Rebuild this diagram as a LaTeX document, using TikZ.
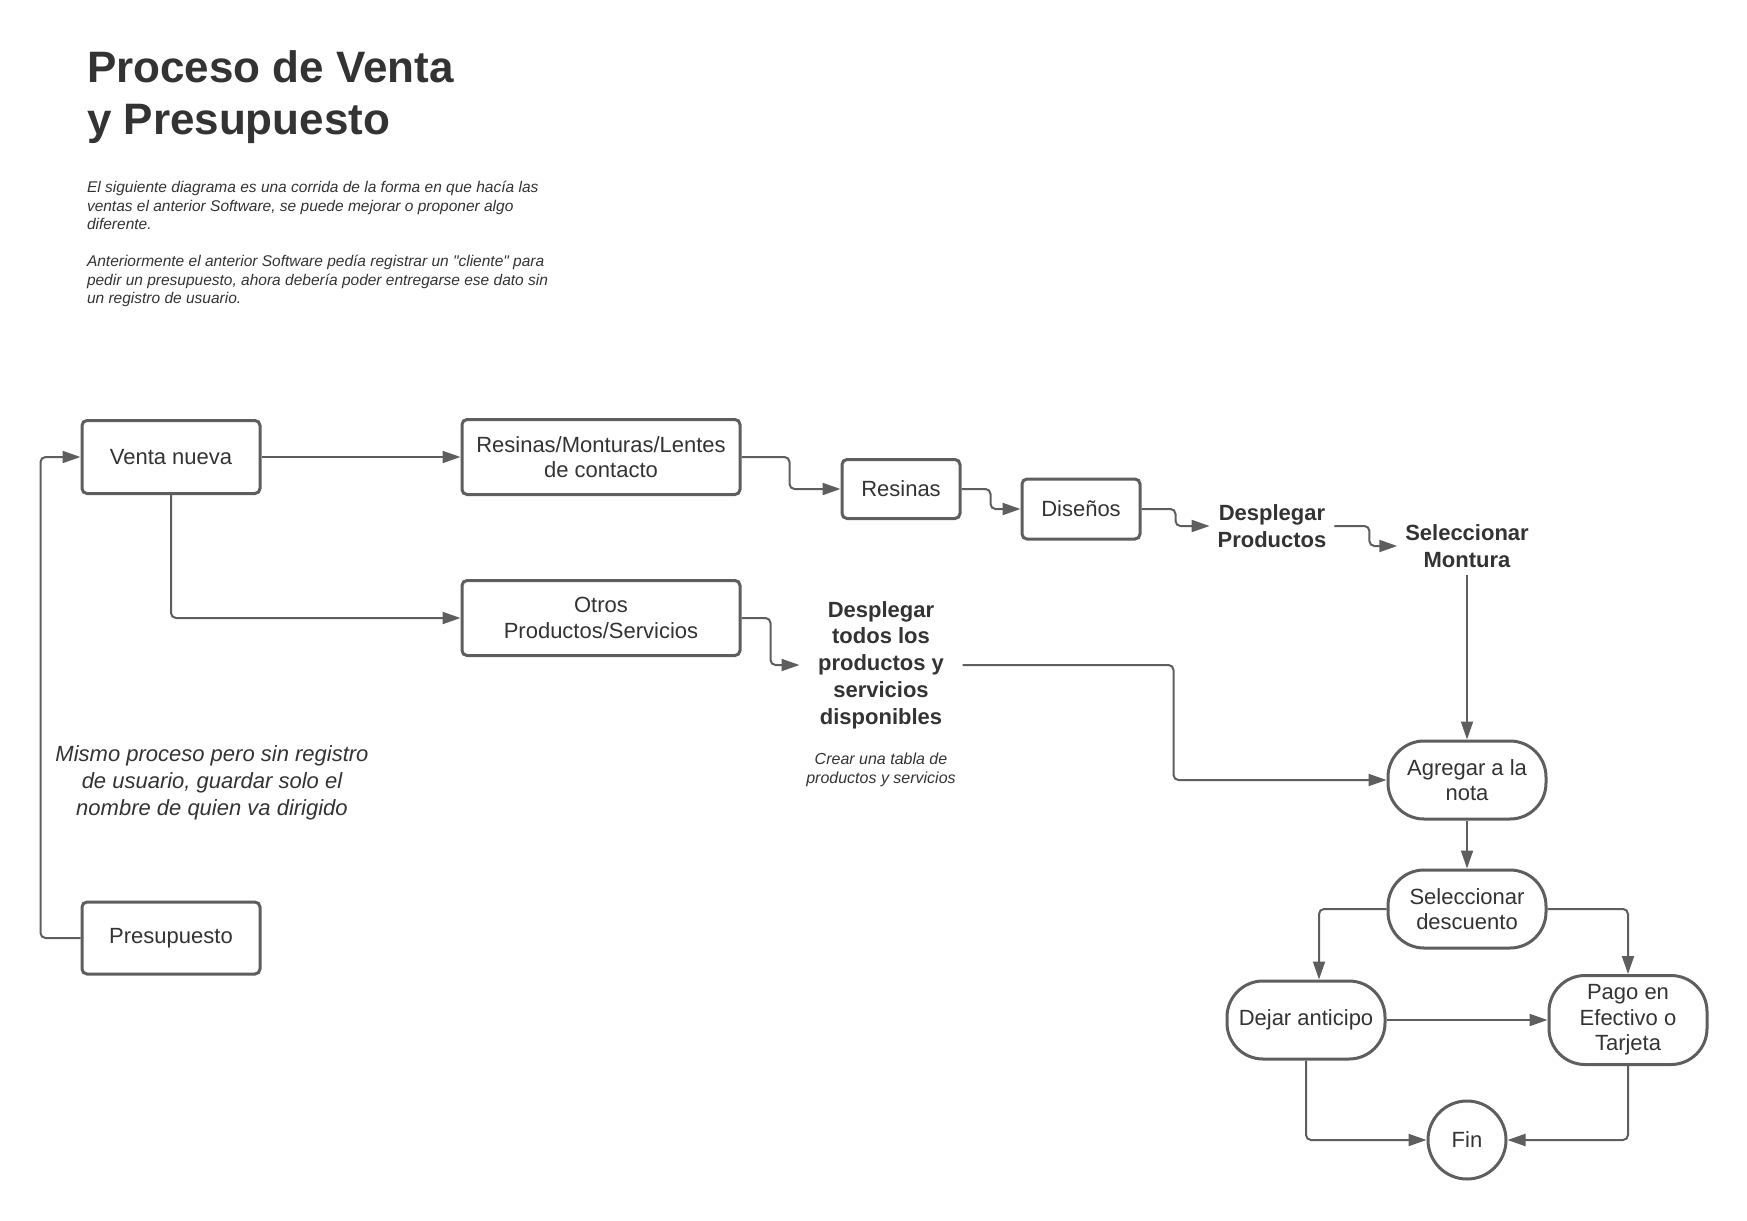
\documentclass[tikz,border=0pt]{standalone}
\usepackage{fontspec}
\setmainfont{Liberation Sans}[Ligatures=TeXOff]
\usetikzlibrary{arrows.meta,positioning}
\definecolor{linec}{HTML}{5E5E5E}
\definecolor{textc}{HTML}{333333}
\tikzset{
  proc/.style={draw=linec,line width=3pt,rounded corners=5pt,align=center,text=textc,
    inner sep=2pt,font=\fontsize{22}{25.5}\selectfont},
  term/.style={proc,rounded corners=36pt,minimum width=158pt,minimum height=78pt},
  endc/.style={circle,draw=linec,line width=3pt,text=textc,minimum size=78pt,
    font=\fontsize{22}{25.5}\selectfont},
  lbl/.style={align=center,text=textc,inner sep=7pt,font=\fontsize{22}{26.7}\selectfont\bfseries},
  note/.style={align=center,text=textc,font=\fontsize{16}{18.3}\selectfont\itshape},
  para/.style={anchor=north west,inner sep=0pt,align=left,text=textc,
    font=\fontsize{15.5}{18.6}\selectfont\itshape},
  elbow/.style={to path={-- ++(#1,0) |- (\tikztotarget)}},
  hv/.style={to path={-| (\tikztotarget)}},
  vh/.style={to path={|- (\tikztotarget)}}
}
\begin{document}
\begin{tikzpicture}[>={Triangle[length=18pt,width=12pt]},x=1pt,y=-1pt,line width=2pt]
    \useasboundingbox (0,0) rectangle (1747,1220);

    \node[anchor=north west,inner sep=0pt,align=left,text=textc,
      font=\fontsize{44}{52}\selectfont\bfseries] (titulo) at (86,50) {Proceso de Venta\\y Presupuesto};
    \node[para] (texto1) at (86,180) {El siguiente diagrama es una corrida de la forma en que hacía las\\ventas el anterior Software, se puede mejorar o proponer algo\\diferente.};
    \node[para] (texto2) at (86,254) {Anteriormente el anterior Software pedía registrar un "cliente" para\\pedir un presupuesto, ahora debería poder entregarse ese dato sin\\un registro de usuario.};

    \node[proc,minimum width=178pt,minimum height=73pt] (venta) at (171,457) {Venta nueva};
    \node[proc,minimum width=178pt,minimum height=72pt] (presup) at (171,938) {Presupuesto};
    \node[proc,minimum width=278pt,minimum height=75pt] (resmon) at (601,457) {Resinas/Monturas/Lentes\\de contacto};
    \node[proc,minimum width=278pt,minimum height=75pt] (otros) [below=83pt of resmon] {Otros\\Productos/Servicios};
    \node[proc,minimum width=118pt,minimum height=59pt] (resinas) at (901,489) {Resinas};
    \node[proc,minimum width=118pt,minimum height=60pt] (disenos) at (1081,509) {Diseños};
    \node[lbl] (despprod) at (1272,526) {Desplegar\\Productos};
    \node[lbl] (selmont) at (1467,546) {Seleccionar\\Montura};
    \node[lbl,minimum width=161pt] (desptodos) at (881,665) {Desplegar\\todos los\\productos y\\servicios\\disponibles};
    \node[note] (crear) at (881,770) {Crear una tabla de\\productos y servicios};
    \node[note,font=\fontsize{22}{27}\selectfont\itshape] (mismo) at (212,783) {Mismo proceso pero sin registro\\de usuario, guardar solo el\\nombre de quien va dirigido};

    \node[term] (agregar) at (1467,780) {Agregar a la\\nota};
    \node[term] (seldesc) [below=48pt of agregar] {Seleccionar\\descuento};
    \node[term] (dejar) at (1306,1020) {Dejar anticipo};
    \node[term,minimum height=89pt] (pago) at (1628,1020) {Pago en\\Efectivo o\\Tarjeta};
    \node[endc] (fin) at (1467,1140) {Fin};

    \path[->,color=linec,rounded corners=5pt]
    (venta) edge (resmon)
    (venta) edge[vh] (otros)
    (presup.west) edge[elbow=-40] (venta.west)

    (resmon.east) edge[elbow=48] (resinas.west)
    (resinas.east) edge[elbow=29] (disenos.west)
    (disenos.east) edge[elbow=34] (despprod.west)
    (despprod.east) edge[elbow=35] (selmont.west)
    (selmont) edge (agregar)

    (otros.east) edge[elbow=29] (desptodos.west)
    (desptodos.east) edge[elbow=211] (agregar.west)

    (agregar) edge (seldesc)
    (seldesc.west) edge[hv] ([xshift=13pt]dejar.north)
    (seldesc.east) edge[hv] (pago.north)
    (dejar) edge (pago)
    (dejar.south) edge[vh] (fin.west)
    (pago.south) edge[vh] (fin.east)
    ;
  \end{tikzpicture}
\end{document}
